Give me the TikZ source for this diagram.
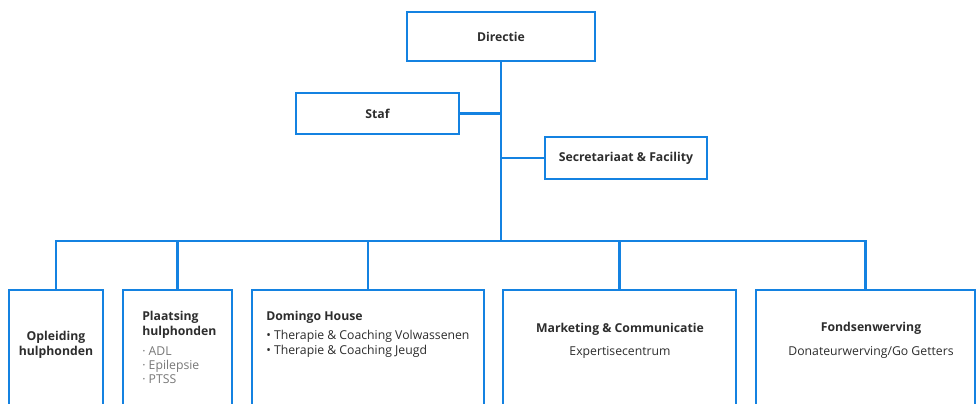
\documentclass[tikz,border=0pt]{standalone}
\usepackage{fontspec}
\setmainfont{Open Sans}
\usepackage{tikz}
\usetikzlibrary{positioning}
\definecolor{orgblue}{RGB}{20,130,225}
\definecolor{orgtext}{RGB}{45,45,45}
\definecolor{orggray}{RGB}{120,120,120}
\tikzset{
    unit/.style={x=0.025cm,y=-0.025cm},
    orgbox/.style={draw=orgblue,line width=2pt,fill=white,inner sep=0pt},
    orgline/.style={draw=orgblue,line width=2pt},
    headtxt/.style={font=\fontsize{8.7}{10.6}\selectfont\bfseries,text=orgtext,inner sep=0pt},
    subtxt/.style={font=\fontsize{8.7}{10.6}\selectfont,text=orgtext,inner sep=0pt},
    listtxt/.style={font=\fontsize{8.7}{10}\selectfont,text=orggray,inner sep=0pt,align=left}
}

\begin{document}
\begin{tikzpicture}[unit]
                \useasboundingbox (0,0) rectangle (978,403);
                % top level
                \node[orgbox,minimum width=4.7cm,minimum height=1.225cm] (dir) at (501,36.5) {};
                \node[orgbox,minimum width=4.075cm,minimum height=1.025cm] (staf) at (377.5,113.5) {};
                \node[orgbox,minimum width=4.05cm,minimum height=1.05cm] (sec) at (626,158) {};
                \coordinate (bus) at (501,241);
                % departments
                \node[orgbox,minimum width=2.35cm,minimum height=3cm] (opl) at (56,350) {};
                \node[orgbox,minimum width=2.725cm,minimum height=3cm] (plt) at (177.5,350) {};
                \node[orgbox,minimum width=5.8cm,minimum height=3cm] (dom) at (368,350) {};
                \node[orgbox,minimum width=5.825cm,minimum height=3cm] (mkt) at (619.5,350) {};
                \node[orgbox,minimum width=5.475cm,minimum height=3cm] (fds) at (865.5,350) {};
                % connectors
                \draw[orgline] (dir.south) -- (bus);
                \draw[orgline] (staf.east) -- (staf.east -| bus);
                \draw[orgline] (sec.west) -- (sec.west -| bus);
                \foreach \Box in {opl,plt,dom,mkt,fds}
                    \draw[orgline] (\Box.north) |- (bus);
                % texts
                \node[headtxt] (dirtxt) at (dir) {Directie};
                \node[headtxt] (staftxt) at (staf) {Staf};
                \node[headtxt] (sectxt) at (sec) {Secretariaat \& Facility};
                \node[headtxt,align=center] (opltxt) at (56,345) {Opleiding\\hulphonden};
                \node[headtxt,align=left,anchor=west] (plttxt) at (142,324.5) {Plaatsing\\hulphonden};
                \node[listtxt,anchor=west] (pltlist) at (142,365) {· ADL\\· Epilepsie\\· PTSS};
                \node[headtxt,anchor=west] (domtxt) at (266,317) {Domingo House};
                \node[subtxt,align=left,anchor=west] (domlist) at (266,343.5) {• Therapie \& Coaching Volwassenen\\• Therapie \& Coaching Jeugd};
                \node[headtxt] (mkttxt) at (620,329) {Marketing \& Communicatie};
                \node[subtxt] (mktsub) at (620,352) {Expertisecentrum};
                \node[headtxt] (fdstxt) at (871,328) {Fondsenwerving};
                \node[subtxt] (fdssub) at (871,352) {Donateurwerving/Go Getters};
\end{tikzpicture}
\end{document}
